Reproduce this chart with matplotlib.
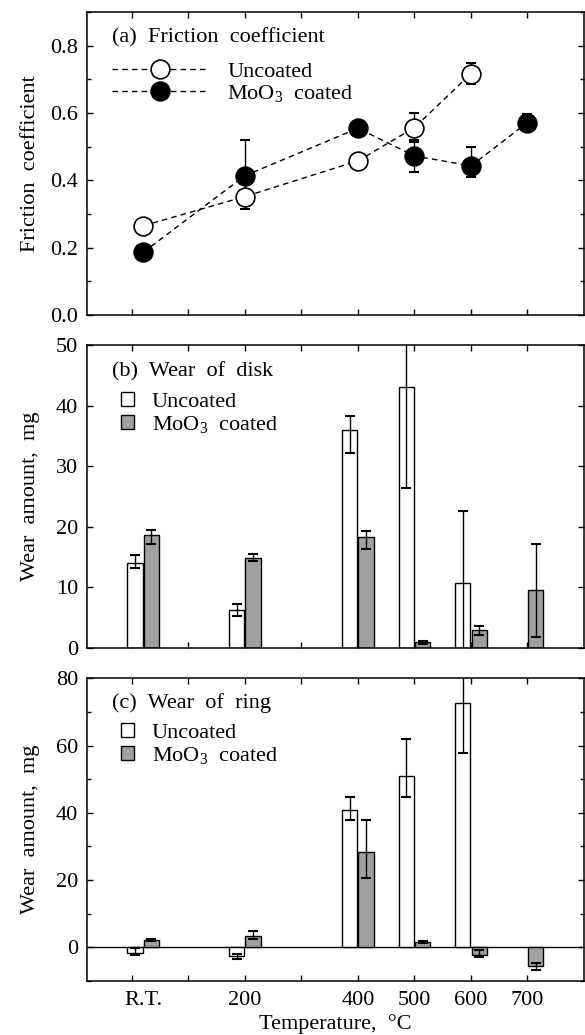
import numpy as np
import matplotlib
matplotlib.use("Agg")
import matplotlib.pyplot as plt
from matplotlib.ticker import MultipleLocator

plt.rcParams['font.family'] = ['Liberation Serif', 'DejaVu Serif']
plt.rcParams['mathtext.fontset'] = 'custom'
plt.rcParams['mathtext.rm'] = 'Liberation Serif'
FS = 16
plt.rcParams['font.size'] = FS

# ---------------- data ----------------
temps = [20, 200, 400, 500, 600, 700]
tick_labels = ['R.T.', '200', '400', '500', '600', '700']

# (a) friction coefficient
fric_unc_t = [20, 200, 400, 500, 600]
fric_unc = [0.265, 0.352, 0.458, 0.557, 0.717]
fric_unc_lo = [0.0, 0.038, 0.0, 0.043, 0.031]
fric_unc_hi = [0.0, 0.038, 0.0, 0.043, 0.031]
fric_coat_t = [20, 200, 400, 500, 600, 700]
fric_coat = [0.186, 0.414, 0.555, 0.473, 0.443, 0.572]
fric_coat_lo = [0.0, 0.047, 0.0, 0.047, 0.033, 0.025]
fric_coat_hi = [0.0, 0.105, 0.0, 0.047, 0.057, 0.025]

# (b) wear of disk, mg
disk_unc = [14.1, 6.3, 36.0, 43.1, 10.7, np.nan]
disk_unc_lo = [0.9, 0.95, 3.8, 16.7, 12.0, 0]
disk_unc_hi = [1.3, 1.0, 2.3, 16.7, 12.0, 0]
disk_coat = [18.6, 14.8, 18.3, 0.94, 3.0, 9.6]
disk_coat_lo = [1.4, 0.5, 1.9, 0.2, 0.9, 7.7]
disk_coat_hi = [0.9, 0.7, 1.0, 0.25, 0.6, 7.6]

# (c) wear of ring, mg
ring_unc = [-1.6, -2.7, 40.9, 50.9, 72.6, np.nan]
ring_unc_lo = [0.8, 0.85, 2.9, 6.3, 14.7, 0]
ring_unc_hi = [1.4, 0.85, 3.8, 11.0, 14.7, 0]
ring_coat = [2.2, 3.5, 28.3, 1.6, -2.2, -5.6]
ring_coat_lo = [0.3, 1.1, 7.6, 0.3, 0.8, 1.2]
ring_coat_hi = [0.3, 1.5, 9.6, 0.3, 1.4, 0.8]

coat_label = r'MoO$_{\rm 3}$  coated'
unc_label = 'Uncoated'

# ---------------- figure ----------------
fig = plt.figure(figsize=(5.85, 10.35), dpi=100)
L, W, H = 0.1482, 0.850, 0.2925
ax_a = fig.add_axes([L, 0.6957, W, H])
ax_b = fig.add_axes([L, 0.3739, W, H])
ax_c = fig.add_axes([L, 0.0522, W, H])

def style(ax):
    ax.set_xlim(-80, 800)
    ax.set_xticks(np.arange(0, 701, 100))
    ax.set_xticklabels([])
    for s in ax.spines.values():
        s.set_linewidth(1.1)
    ax.tick_params(which='both', direction='in', top=True, right=True, width=1.0)
    ax.tick_params(which='major', length=4.5, labelsize=FS, pad=6)
    ax.tick_params(which='minor', length=3)
    ax.yaxis.set_label_coords(-0.094, 0.5)

# ----- (a) -----
style(ax_a)
ax_a.set_ylim(0, 0.9)
ax_a.set_yticks([0.0, 0.2, 0.4, 0.6, 0.8])
ax_a.set_yticklabels(['0.0', '0.2', '0.4', '0.6', '0.8'])
ax_a.yaxis.set_minor_locator(MultipleLocator(0.1))
ax_a.errorbar(fric_unc_t, fric_unc, yerr=[fric_unc_lo, fric_unc_hi], fmt='none',
              ecolor='k', elinewidth=1, capsize=3.3, capthick=1.5, zorder=2)
ax_a.errorbar(fric_coat_t, fric_coat, yerr=[fric_coat_lo, fric_coat_hi], fmt='none',
              ecolor='k', elinewidth=1, capsize=3.3, capthick=1.5, zorder=2)
l1, = ax_a.plot(fric_unc_t, fric_unc, ls='--', dashes=(4, 3), color='k', lw=1,
                marker='o', ms=13.5, mfc='white', mec='k', mew=1.2, zorder=3)
l2, = ax_a.plot(fric_coat_t, fric_coat, ls='--', dashes=(4, 3), color='k', lw=1,
                marker='o', ms=13.5, mfc='k', mec='k', mew=1.2, zorder=4)
ax_a.set_ylabel('Friction  coefficient', fontsize=FS)
ax_a.text(0.05, 0.916, '(a)  Friction  coefficient', transform=ax_a.transAxes,
          ha='left', va='center', fontsize=FS)
ax_a.legend([l1, l2], [unc_label, coat_label], loc='upper left',
            bbox_to_anchor=(0.05, 0.838), frameon=False, borderpad=0,
            borderaxespad=0, handlelength=4.4, handletextpad=0.8,
            labelspacing=0.05, numpoints=1, fontsize=FS)

# ----- bars helper -----
bw = 27
off = 14.5

def bars(ax, unc, unc_lo, unc_hi, coat, coat_lo, coat_hi):
    xu = np.array(temps) - off
    xc = np.array(temps) + off
    b1 = ax.bar(xu, unc, width=bw, color='white', edgecolor='k', linewidth=1.0, zorder=2)
    b2 = ax.bar(xc, coat, width=bw, color='#a0a0a0', edgecolor='k', linewidth=1.0, zorder=2)
    ax.errorbar(xu, unc, yerr=[unc_lo, unc_hi], fmt='none', ecolor='k',
                elinewidth=1, capsize=3.3, capthick=1.5, zorder=3)
    ax.errorbar(xc, coat, yerr=[coat_lo, coat_hi], fmt='none', ecolor='k',
                elinewidth=1, capsize=3.3, capthick=1.5, zorder=3)
    return b1, b2

leg_kw = dict(loc='upper left', frameon=False, borderpad=0, borderaxespad=0,
              handlelength=0.6, handleheight=0.6, handletextpad=0.8,
              labelspacing=0.1, fontsize=FS)

# ----- (b) -----
style(ax_b)
ax_b.set_ylim(0, 50)
ax_b.set_yticks([0, 10, 20, 30, 40, 50])
b1, b2 = bars(ax_b, disk_unc, disk_unc_lo, disk_unc_hi, disk_coat, disk_coat_lo, disk_coat_hi)
ax_b.set_ylabel('Wear  amount,  mg', fontsize=FS)
ax_b.text(0.05, 0.913, '(b)  Wear  of  disk', transform=ax_b.transAxes,
          ha='left', va='center', fontsize=FS)
ax_b.legend([b1, b2], [unc_label, coat_label], bbox_to_anchor=(0.068, 0.846), **leg_kw)

# ----- (c) -----
style(ax_c)
ax_c.set_ylim(-10, 80)
ax_c.set_yticks([0, 20, 40, 60, 80])
ax_c.yaxis.set_minor_locator(MultipleLocator(10))
ax_c.axhline(0, color='k', lw=1.0, zorder=1)
b1, b2 = bars(ax_c, ring_unc, ring_unc_lo, ring_unc_hi, ring_coat, ring_coat_lo, ring_coat_hi)
ax_c.set_ylabel('Wear  amount,  mg', fontsize=FS)
ax_c.text(0.05, 0.917, '(c)  Wear  of  ring', transform=ax_c.transAxes,
          ha='left', va='center', fontsize=FS)
ax_c.legend([b1, b2], [unc_label, coat_label], bbox_to_anchor=(0.068, 0.852), **leg_kw)

# x tick labels (bottom panel only)
ax_c.xaxis.remove_overlapping_locs = False
ax_c.set_xticks(temps, tick_labels, minor=True)
ax_c.tick_params(axis='x', which='minor', length=0, top=False, labelsize=FS, pad=7)
ax_c.set_xlabel('Temperature,  \u00b0C', fontsize=FS, labelpad=3)

fig.savefig('out.png', dpi=100)
